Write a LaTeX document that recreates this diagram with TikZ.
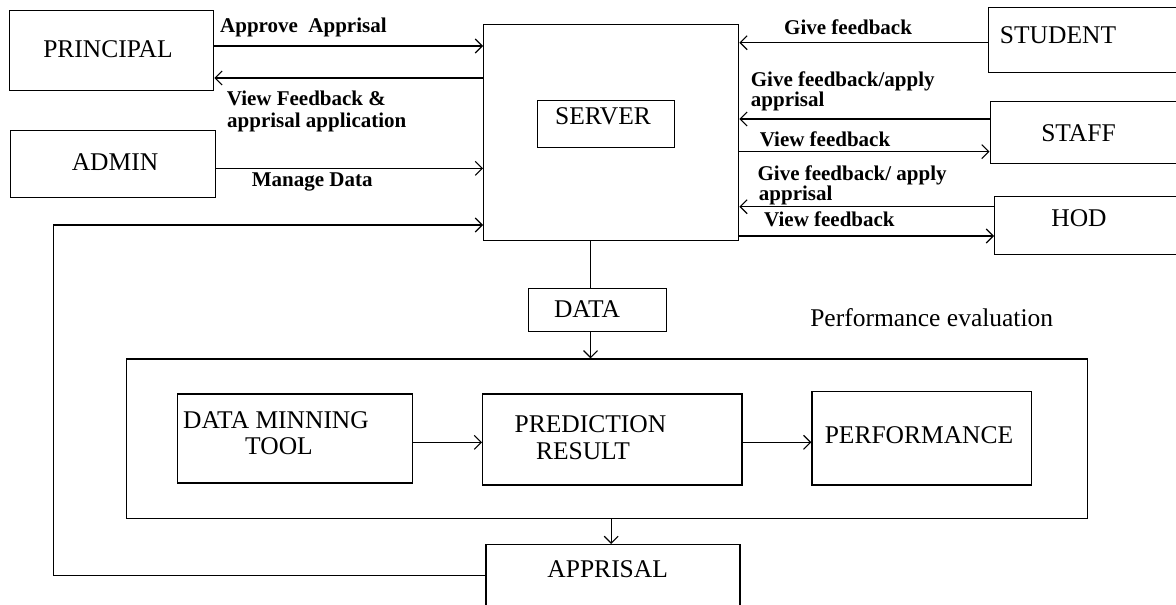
\documentclass[tikz,border=0pt]{standalone}
\usepackage{fontspec}
\setmainfont{Liberation Serif}
\usetikzlibrary{arrows.meta}

\tikzset{
  box/.style={draw, line width=1.4pt, inner sep=0pt, anchor=north west},
  boxtxt/.style={inner sep=0pt, anchor=base, font=\fontsize{25.5}{28}\selectfont},
  lbl/.style={inner sep=0pt, anchor=base west, font=\fontsize{21}{22}\selectfont\bfseries},
  flow/.style={line width=1.3pt},
  arr/.style={flow, -{Straight Barb[length=7pt,width=14pt,line width=1.1pt]}},
}

\begin{document}
\begin{tikzpicture}[x=1pt, y=-1pt]
\useasboundingbox (0,0) rectangle (1176,605);

% ---------- boxes ----------
\node[box, minimum width=255pt, minimum height=216pt] (server) at (483,24) {};
\node[box, minimum width=137pt, minimum height=47pt]  (srvlbl) at (537,100) {};
\node[box, minimum width=204pt, minimum height=80pt]  (principal) at (9,10) {};
\node[box, minimum width=205pt, minimum height=67pt]  (admin) at (10,130) {};
\node[box, minimum width=210pt, minimum height=65pt]  (student) at (988,7) {};
\node[box, minimum width=210pt, minimum height=62pt]  (staff) at (989.5,100.5) {};
\node[box, minimum width=210pt, minimum height=58pt]  (hod) at (994,196) {};
\node[box, minimum width=138pt, minimum height=43pt]  (data) at (528,288) {};
\node[box, minimum width=961pt, minimum height=159.4pt] (eval) at (125.5,358.3) {};
\node[box, minimum width=235pt, minimum height=89pt]  (dmt) at (177,393.3) {};
\node[box, minimum width=259.4pt, minimum height=91pt] (pred) at (482,393.3) {};
\node[box, minimum width=219.7pt, minimum height=93.6pt] (perf) at (811.3,390.7) {};
\node[box, minimum width=254pt, minimum height=80pt]  (appr) at (485.3,544) {};

% ---------- box texts ----------
\node[boxtxt] (tprincipal) at (108,57.3) {PRINCIPAL};
\node[boxtxt] (tadmin) at (115,170.7) {ADMIN};
\node[boxtxt] (tserver) at (603,124) {SERVER};
\node[boxtxt] (tstudent) at (1058,43.3) {STUDENT};
\node[boxtxt] (tstaff) at (1078.5,141) {STAFF};
\node[boxtxt] (thod) at (1079,226.5) {HOD};
\node[boxtxt] (tdata) at (587,317) {DATA};
\node[boxtxt] (teval) at (931.7,326) {Performance evaluation};
\node[boxtxt, anchor=base west] (tdmt1) at (183,428.3) {DATA MINNING};
\node[boxtxt] (tdmt2) at (279,454) {TOOL};
\node[boxtxt] (tpred1) at (590.5,432.7) {PREDICTION};
\node[boxtxt] (tpred2) at (583,459) {RESULT};
\node[boxtxt] (tperf) at (919,443.3) {PERFORMANCE};
\node[boxtxt] (tappr) at (607.7,577.3) {APPRISAL};

% ---------- connector labels ----------
\node[lbl] (lapprove) at (220,32.7) {Approve~~Apprisal};
\node[lbl] (lview1) at (226.7,105) {View Feedback \&};
\node[lbl] (lview2) at (227,127.7) {apprisal application};
\node[lbl] (lmanage) at (251.7,186) {Manage Data};
\node[lbl] (lstudent) at (784,34.3) {Give feedback};
\node[lbl] (lstaff1) at (750.7,86) {Give feedback/apply};
\node[lbl] (lstaff2) at (750.7,106) {apprisal};
\node[lbl] (lstaff3) at (759.6,146) {View feedback};
\node[lbl] (lhod1) at (757.4,180) {Give feedback/ apply};
\node[lbl] (lhod2) at (758.7,200) {apprisal};
\node[lbl] (lhod3) at (764,226) {View feedback};

% ---------- connectors ----------
\draw[arr] (principal.east |- 0,46) -- (server.west |- 0,46);
\draw[arr] (server.west |- 0,78) -- (principal.east |- 0,78);
\draw[arr] (admin.east |- 0,168.3) -- (server.west |- 0,168.3);
\draw[arr] (student.west |- 0,42.7) -- (server.east |- 0,42.7);
\draw[arr] (staff.west |- 0,119) -- (server.east |- 0,119);
\draw[arr] (server.east |- 0,151.7) -- (staff.west |- 0,151.7);
\draw[arr] (hod.west |- 0,206.7) -- (server.east |- 0,206.7);
\draw[arr] (server.east |- 0,236) -- (hod.west |- 0,236);
\draw[flow] (server.south -| 590.5,0) -- (data.north -| 590.5,0);
\draw[arr] (data.south -| 590.5,0) -- (eval.north -| 590.5,0);
\draw[arr] (dmt.east |- 0,442.3) -- (pred.west |- 0,442.3);
\draw[arr] (pred.east |- 0,442.3) -- (perf.west |- 0,442.3);
\draw[arr] (eval.south -| 611.2,0) -- (appr.north -| 611.2,0);
\draw[arr] (appr.west |- 0,575.7) -| (53.6,225) -- (server.west |- 0,225);
\end{tikzpicture}
\end{document}
